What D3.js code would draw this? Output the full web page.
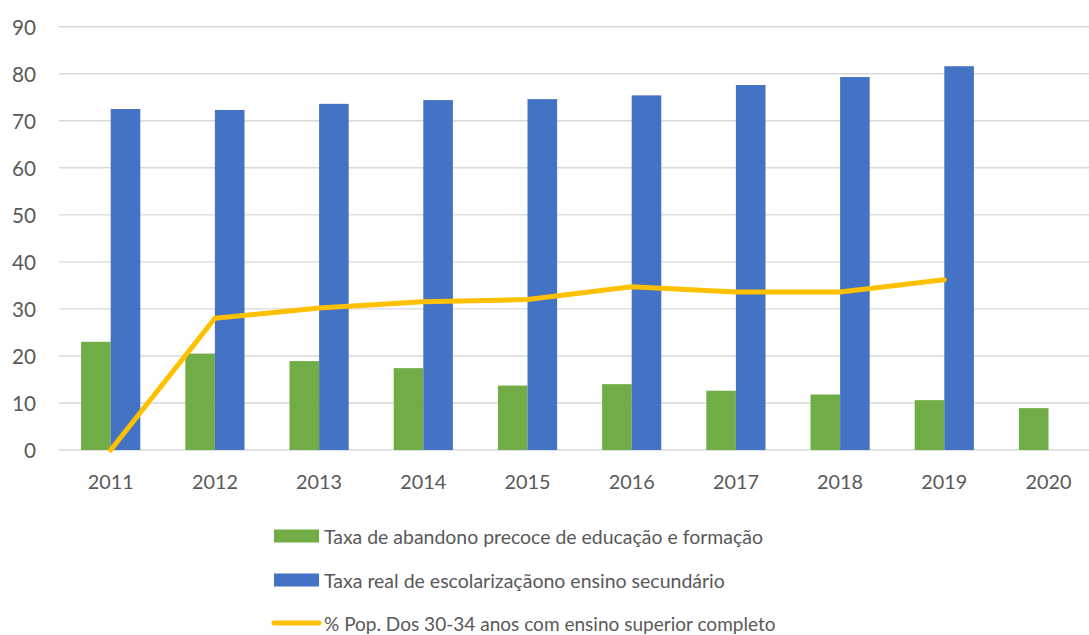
<!DOCTYPE html>
<html><head><meta charset="utf-8">
<script src="https://cdn.jsdelivr.net/npm/d3@7"></script>
<style>body{margin:0;background:#fff}svg{display:block}text{font-family:Lato,"Open Sans",sans-serif;fill:#595959}</style>
</head><body><svg id="c" width="1089" height="635"></svg>
<script>
const categories = ["2011","2012","2013","2014","2015","2016","2017","2018","2019","2020"];
const abandono = [23.0,20.5,18.9,17.4,13.7,14.0,12.6,11.8,10.6,8.9];
const escolarizacao = [72.5,72.3,73.6,74.4,74.6,75.4,77.6,79.3,81.6,null];
const superior = [0,28.0,30.2,31.5,32.0,34.7,33.6,33.6,36.2,null];
const yTicks = [0,10,20,30,40,50,60,70,80,90];
const seriesNames = ["Taxa de abandono precoce de educação e formação","Taxa real de escolarizaçãono ensino secundário","% Pop. Dos 30-34 anos com ensino superior completo"];
const colors = ["#70AD47","#4472C4","#FFC000"];

const svg = d3.select("#c");
const x = d3.scaleBand().domain(categories).range([58.6,1100.6]);
const y = d3.scaleLinear().domain([0,90]).range([450,26.7]);
const bw = 29.6;

function fit(t, target, base){
  const w = t.node().getComputedTextLength();
  return base*target/w;
}

// gridlines
svg.append("g").selectAll("line").data(yTicks).join("line")
  .attr("x1",59).attr("x2",1089).attr("y1",d=>y(d)).attr("y2",d=>y(d))
  .attr("stroke","#d9d9d9").attr("stroke-width",1.4);

// y axis labels
const yl = svg.append("g").selectAll("text").data(yTicks).join("text")
  .attr("x",36).attr("y",d=>y(d)).attr("text-anchor","end").attr("dominant-baseline","central")
  .style("font-size","20px").text(d=>d);
const ys = fit(yl.filter(d=>d===90), 24, 20);
yl.style("font-size", ys.toFixed(2)+"px");

// x labels
const xl = svg.append("g").selectAll("text").data(categories).join("text")
  .attr("x",d=>x(d)+x.bandwidth()/2).attr("y",481).attr("text-anchor","middle").attr("dominant-baseline","central")
  .style("font-size","20px").text(d=>d);
const xs = fit(xl.filter(d=>d==="2012"), 46, 20);
xl.style("font-size", xs.toFixed(2)+"px");

// bars
const cx = d=>x(d)+x.bandwidth()/2;
svg.append("g").selectAll("rect").data(categories.map((c,i)=>({c,v:abandono[i]})).filter(d=>d.v!=null)).join("rect")
  .attr("x",d=>cx(d.c)-bw).attr("width",bw).attr("y",d=>y(d.v)).attr("height",d=>y(0)-y(d.v)).attr("fill",colors[0]);
svg.append("g").selectAll("rect").data(categories.map((c,i)=>({c,v:escolarizacao[i]})).filter(d=>d.v!=null)).join("rect")
  .attr("x",d=>cx(d.c)).attr("width",bw).attr("y",d=>y(d.v)).attr("height",d=>y(0)-y(d.v)).attr("fill",colors[1]);

// line
const lineData = categories.map((c,i)=>({c,v:superior[i]}));
svg.append("path").datum(lineData)
  .attr("d",d3.line().defined(d=>d.v!=null).x(d=>cx(d.c)).y(d=>y(d.v)))
  .attr("fill","none").attr("stroke",colors[2]).attr("stroke-width",5)
  .attr("stroke-linecap","round").attr("stroke-linejoin","round");

// legend
const ly = [536,580,623];
const lg = svg.append("g");
lg.append("rect").attr("x",274).attr("y",ly[0]-6.5).attr("width",45).attr("height",13).attr("fill",colors[0]);
lg.append("rect").attr("x",274).attr("y",ly[1]-6.5).attr("width",45).attr("height",13).attr("fill",colors[1]);
lg.append("line").attr("x1",274).attr("x2",319).attr("y1",ly[2]).attr("y2",ly[2]).attr("stroke",colors[2]).attr("stroke-width",5).attr("stroke-linecap","round");
const targetW = [439,401,452];
seriesNames.forEach((n,i)=>{
  const t = lg.append("text").attr("x",324).attr("y",ly[i]).attr("dominant-baseline","central").style("font-size","18px").text(n);
  t.style("font-size",fit(t,targetW[i],18).toFixed(2)+"px");
});
</script></body></html>
